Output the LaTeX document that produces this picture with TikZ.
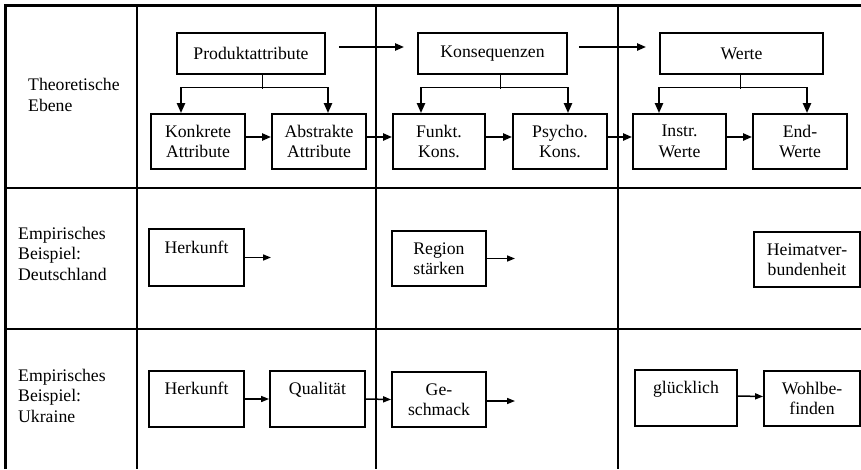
\documentclass[tikz,border=0pt]{standalone}
\usepackage{fontspec}
\setmainfont{Liberation Serif}
\usetikzlibrary{arrows.meta}
\begin{document}
\begin{tikzpicture}[x=1pt,y=1pt,
  txt/.style={font=\fontsize{17.7}{20.5}\selectfont},
  box/.style={txt, draw, line width=1.8pt, inner sep=0pt, align=center,
    minimum height=55, minimum width=94},
  lbl/.style={txt, align=left, anchor=north west, inner sep=0pt},
  thickarrow/.style={line width=2.2pt, -{Triangle[length=9pt,width=7pt]}},
  thinarrow/.style={line width=1.5pt, -{Triangle[length=8pt,width=6pt]}},
  branch/.style={line width=2.2pt, -{Triangle[length=10pt,width=8pt]}},
  stem/.style={line width=1pt},
  frame/.style={line width=2.8pt},
  hline/.style={line width=2.2pt},
  vline/.style={line width=1.3pt},
]
\useasboundingbox (0,0) rectangle (861,-469);

% grid
\draw[frame] (5.5,-469) -- (5.5,-5.5) -- (861,-5.5);
\draw[hline] (5,-188) -- (861,-188);
\draw[hline] (5,-329) -- (861,-329);
\draw[vline] (137,-5) -- (137,-469);
\draw[vline] (376,-5) -- (376,-469);
\draw[vline] (618,-5) -- (618,-469);

% row labels
\node[lbl] (l1) at (28,-78.5) {Theoretische\\Ebene};
\node[lbl] (l2) at (18,-227) {Empirisches\\Beispiel:\\Deutschland};
\node[lbl] (l3) at (18,-369) {Empirisches\\Beispiel:\\Ukraine};

% row 1
\node[box, minimum width=148, minimum height=41] (pa) at (251,-53.5) {Produktattribute};
\node[box, minimum width=149, minimum height=41] (ks) at (492.5,-53.5) {Konsequenzen};
\node[box, minimum width=163, minimum height=41] (we) at (741.5,-53.5) {Werte};
\node[box] (ka) at (198,-141.5) {Konkrete\\Attribute};
\node[box] (aa) at (319,-141.5) {Abstrakte\\Attribute};
\node[box, minimum width=92] (fk) at (439,-141.5) {Funkt.\\Kons.};
\node[box] (pk) at (560,-141.5) {Psycho.\\Kons.};
\node[box, minimum width=93] (iw) at (679.5,-141.5) {Instr.\\Werte};
\node[box] (ew) at (800,-141.5) {End-\\Werte};

\draw[thickarrow] ([shift={(13,6.5)}]pa.east) -- ([shift={(-13,6.5)}]ks.west);
\draw[thickarrow] ([shift={(11,6.5)}]ks.east) -- ([shift={(-13,6.5)}]we.west);

% branches
\draw[stem] ([xshift=11]pa.south) -- ++(0,-14);
\draw[stem] ([xshift=-17,yshift=26]ka.north) -- ([xshift=9,yshift=26]aa.north);
\draw[branch] ([xshift=-17,yshift=26]ka.north) -- ([xshift=-17]ka.north);
\draw[branch] ([xshift=9,yshift=26]aa.north) -- ([xshift=9]aa.north);

\draw[stem] ([xshift=7.5]ks.south) -- ++(0,-14);
\draw[stem] ([xshift=-18,yshift=26]fk.north) -- ([xshift=8,yshift=26]pk.north);
\draw[branch] ([xshift=-18,yshift=26]fk.north) -- ([xshift=-18]fk.north);
\draw[branch] ([xshift=8,yshift=26]pk.north) -- ([xshift=8]pk.north);

\draw[stem] ([xshift=-1.5]we.south) -- ++(0,-14);
\draw[stem] ([xshift=-20.5,yshift=26]iw.north) -- ([xshift=7,yshift=26]ew.north);
\draw[branch] ([xshift=-20.5,yshift=26]iw.north) -- ([xshift=-20.5]iw.north);
\draw[branch] ([xshift=7,yshift=26]ew.north) -- ([xshift=7]ew.north);

\draw[thickarrow] ([yshift=4.5]ka.east) -- ([yshift=4.5]aa.west);
\draw[thickarrow] ([yshift=4.5]aa.east) -- ([yshift=4.5]fk.west);
\draw[thickarrow] ([yshift=4.5]fk.east) -- ([yshift=4.5]pk.west);
\draw[thickarrow] ([yshift=4.5]pk.east) -- ([yshift=4.5]iw.west);
\draw[thickarrow] ([yshift=4.5]iw.east) -- ([yshift=4.5]ew.west);

% row 2
\node[box, minimum width=95, minimum height=57] (hd) at (196.5,-257.5) {Herkunft\\\mbox{}};
\coordinate (hde) at (271,-257.5);
\node[box, minimum height=55] (rs) at (439,-258.5) {Region\\stärken};
\coordinate (rse) at (515,-258.5);
\node[box, minimum width=106, minimum height=55] (hv) at (807,-259.5) {Heimatver-\\bundenheit};
\draw[thinarrow] (hd.east) -- (hde);
\draw[thinarrow] (rs.east) -- (rse);

% row 3
\node[box, minimum width=95, minimum height=56] (hu) at (196.5,-399) {Herkunft\\\mbox{}};
\node[box, minimum width=95, minimum height=56] (qu) at (317.5,-399) {Qualität\\\mbox{}};
\node[box, minimum height=55] (gs) at (439,-399.5) {Ge-\\schmack};
\coordinate (gse) at (515,-401);
\node[box, minimum width=102, minimum height=56] (gl) at (686,-398) {glücklich\\\mbox{}};
\node[box, minimum width=96, minimum height=55] (wb) at (812,-398.5) {Wohlbe-\\finden};
\draw[thinarrow] (hu.east) -- (qu.west);
\draw[thinarrow] (qu.east) -- (gs.west);
\draw[thinarrow] ([yshift=-1.5]gs.east) -- (gse);
\draw[thinarrow] ([yshift=2]gl.east) -- ([yshift=2]wb.west);
\end{tikzpicture}
\end{document}
